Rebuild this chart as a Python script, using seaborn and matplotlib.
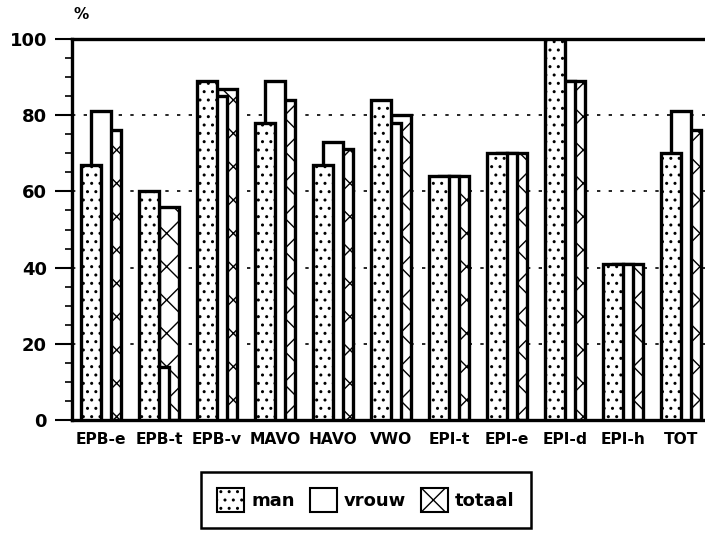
import numpy as np, pandas as pd
import matplotlib
matplotlib.use("Agg")
import matplotlib.pyplot as plt
from matplotlib.patches import Patch
from matplotlib.ticker import MultipleLocator
import seaborn as sns

categories = ["EPB-e","EPB-t","EPB-v","MAVO","HAVO","VWO","EPI-t","EPI-e","EPI-d","EPI-h","TOT"]
man    = [67, 60, 89, 78, 67, 84, 64, 70, 100, 41, 70]
vrouw  = [81, 14, 85, 89, 73, 78, 64, 70,  89, 41, 81]
totaal = [76, 56, 87, 84, 71, 80, 64, 70,  89, 41, 76]
series = ["man", "vrouw", "totaal"]
y_ticks = [0, 20, 40, 60, 80, 100]

df = pd.DataFrame({
    "cat": categories * 3,
    "serie": np.repeat(series, len(categories)),
    "pct": man + vrouw + totaal,
})

sns.set_style("white")
plt.rcParams["font.family"] = ["DejaVu Sans"]
plt.rcParams["font.weight"] = "bold"
plt.rcParams["hatch.linewidth"] = 1.0
plt.rcParams["hatch.color"] = "black"
for k in ["text.color", "xtick.color", "ytick.color", "axes.labelcolor"]:
    plt.rcParams[k] = "black"

fig = plt.figure(figsize=(7.05, 5.33), dpi=100)
ax = fig.add_axes([72/705, 1-420/533, 638/705, (420-39)/533])

sns.barplot(data=df, x="cat", y="pct", hue="serie", order=categories,
            hue_order=series, palette={s: "white" for s in series},
            width=0.525, dodge=True, edgecolor="black", linewidth=2.4,
            errorbar=None, legend=False, ax=ax)

# overlapping bars: man in front, totaal at the back
hatch = {"man": "..", "vrouw": "", "totaal": "x"}
zord = {"man": 4, "vrouw": 3, "totaal": 2}
for s, cont in zip(series, ax.containers):
    for p in cont.patches:
        c = p.get_x() + p.get_width() / 2
        p.set_width(0.345); p.set_x(c - 0.345 / 2)
        p.set_hatch(hatch[s]); p.set_zorder(zord[s])

ax.set_xlim(-0.5, len(categories) - 0.5)
ax.set_ylim(0, 100)
ax.set_yticks(y_ticks)
ax.yaxis.set_minor_locator(MultipleLocator(5))
ax.tick_params(axis="y", which="major", left=True, length=12, width=1.5,
               labelsize=13, pad=6)
ax.tick_params(axis="y", which="minor", left=True, length=5, width=1.2)
ax.tick_params(axis="x", bottom=False, labelsize=11.2, pad=5)
for t in ax.get_xticklabels() + ax.get_yticklabels():
    t.set_fontweight("bold")
ax.set_xlabel(""); ax.set_ylabel("")

for yv in y_ticks[1:-1]:
    ax.axhline(yv, color="black", lw=1.2, ls=(0, (2, 5)), zorder=1)

for sp in ["left", "top", "bottom"]:
    ax.spines[sp].set_linewidth(2.4); ax.spines[sp].set_color("black")
ax.spines["right"].set_visible(False)

ax.text(0.014, 1.065, "%", transform=ax.transAxes, fontsize=11,
        fontweight="bold", ha="center", va="center")

handles = [Patch(facecolor="white", edgecolor="black", hatch=hatch[s], lw=1.5)
           for s in series]
leg = fig.legend(handles, series, loc="center", bbox_to_anchor=(366/705, 1-500/533),
                 ncol=3, frameon=True, fancybox=False, edgecolor="black",
                 framealpha=1, prop={"weight": "bold", "size": 13},
                 handlelength=1.5, handleheight=1.6, handletextpad=0.4,
                 columnspacing=0.8, borderpad=0.9)
leg.get_frame().set_linewidth(1.8)

plt.savefig("out.png", dpi=100)
